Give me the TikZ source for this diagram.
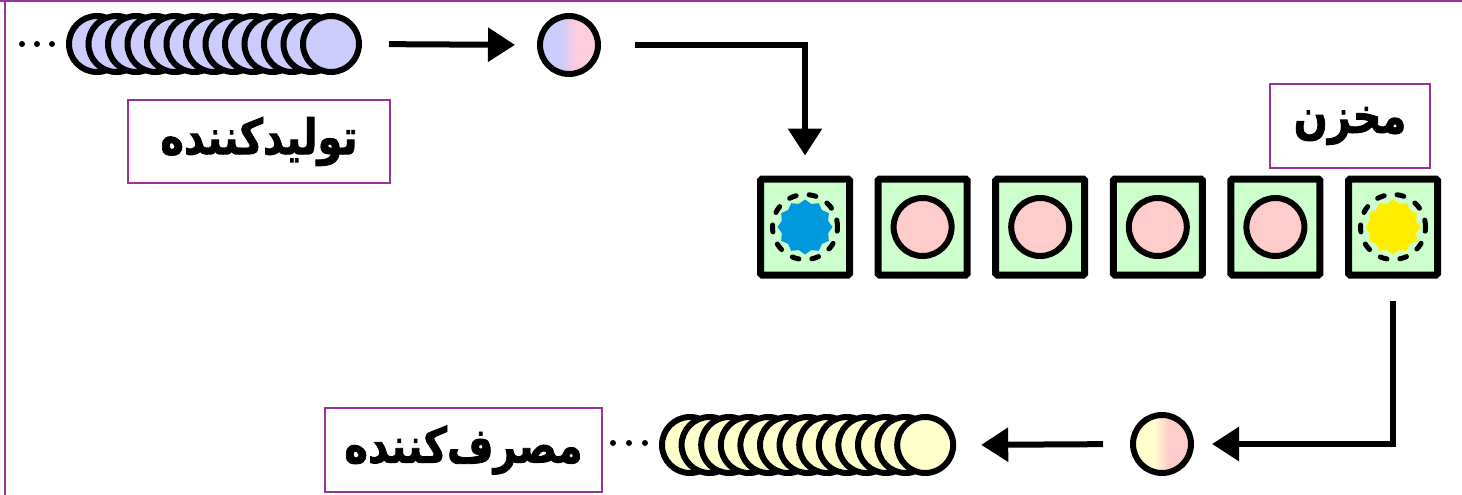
\documentclass[tikz,border=0pt]{standalone}
\usepackage{fontspec}
\newfontfamily\farsi[Script=Arabic,FakeBold=1.8]{DejaVu Sans Bold}
\TeXXeTstate=1
\usetikzlibrary{arrows.meta,shapes.geometric}

\definecolor{frameline}{HTML}{993399}
\definecolor{lav}{HTML}{CCCCFF}
\definecolor{cream}{HTML}{FFFFCC}
\definecolor{rose}{HTML}{FFCCCC}
\definecolor{rosepink}{HTML}{FFCCDD}
\definecolor{cellgreen}{HTML}{CCFFCC}
\definecolor{itemblue}{HTML}{0099DD}
\definecolor{itemyellow}{HTML}{FFEE00}

% two-tone balls: left colour turning into pink near the middle
\pgfdeclarehorizontalshading{lavrose}{100bp}{color(0bp)=(lav); color(43bp)=(lav); color(56bp)=(rosepink); color(100bp)=(rosepink)}
\pgfdeclarehorizontalshading{creamrose}{100bp}{color(0bp)=(cream); color(43bp)=(cream); color(56bp)=(rose); color(100bp)=(rose)}

% tall heavy label text
\newcommand{\tagtext}[1]{\scalebox{1}[1.22]{\beginR #1\endR}}

\tikzset{
  stackball/.style={circle, draw=black, line width=6pt, minimum size=56pt, inner sep=0pt},
  ball/.style={circle, draw=black, line width=6pt, minimum size=58pt, inner sep=0pt},
  cell/.style={rectangle, draw=black, fill=cellgreen, line width=7pt, rounded corners=1.5pt,
               minimum width=89pt, minimum height=96pt, inner sep=0pt},
  item/.style={circle, draw=black, fill=rose, line width=6pt, minimum size=58pt, inner sep=0pt},
  burst/.style={star, star points=12, star point ratio=1.15, minimum size=55pt, inner sep=0pt},
  slot/.style={circle, draw=black, line width=5pt, minimum size=65pt, inner sep=0pt,
               dash pattern=on 7pt off 13pt, line cap=round},
  flow/.style={line width=6pt, -{Triangle[length=27pt,width=33pt]}},
  tag/.style={rectangle, draw=frameline, line width=2pt, inner sep=0pt,
              font=\farsi\fontsize{40}{46}\selectfont},
  dot/.style={circle, fill=black, minimum size=6pt, inner sep=0pt}
}

\begin{document}
\begin{tikzpicture}[x=1pt,y=-1pt]
\useasboundingbox (0,0) rectangle (1462,495);

% frame
\draw[frameline, line width=2.5pt] (0,1.2) -- (1462,1.2);
\draw[frameline, line width=2.5pt] (5,0) -- (5,495);

% producer queue
\foreach \x in {22,37,52} \node[dot] at (\x,44) {};
\foreach \i in {0,...,12}
  \node[stackball, fill=lav] (pr\i) at ({97+\i*19.5},44) {};

% item on its way in
\node[ball, shading=lavrose] (inball) at (569,45) {};

% buffer
\foreach \i in {1,...,6}
  \node[cell] (c\i) at ({805+(\i-1)*117.6},227) {};
\foreach \i in {2,...,5}
  \node[item] (it\i) at (c\i) {};
\node[burst, fill=itemblue] (b1) at (c1) {};
\node[burst, fill=itemyellow] (b6) at (c6) {};
\node[slot] (s1) at (c1) {};
\node[slot] (s6) at (c6) {};

% item on its way out
\node[ball, shading=creamrose] (outball) at (1162,444) {};

% consumer queue
\foreach \x in {613,629,645} \node[dot] at (\x,443) {};
\foreach \i in {0,...,12}
  \node[stackball, fill=cream] (co\i) at ({690+\i*19.6},445) {};

% connectors
\draw[flow, shorten <=27pt, shorten >=22pt] (pr12.east) -- (inball.west);
\draw[flow, shorten <=34pt, shorten >=20pt] (inball.east) -| (c1.north);
\draw[flow, shorten <=22pt, shorten >=18pt] (c6.south) |- (outball.east);
\draw[flow, shorten <=27pt, shorten >=25pt] (outball.west) -- (co12.east);

% labels
\node[tag, minimum width=262pt, minimum height=83pt] (prodlabel) at (259,141.5) {\tagtext{تولیدکننده}};
\node[tag, minimum width=160pt, minimum height=84pt] (storelabel) at (1350,126) {\tagtext{مخزن}};
\node[tag, minimum width=277pt, minimum height=84pt] (conslabel) at (463.5,450) {\tagtext{مصرف‌کننده}};
\end{tikzpicture}
\end{document}
